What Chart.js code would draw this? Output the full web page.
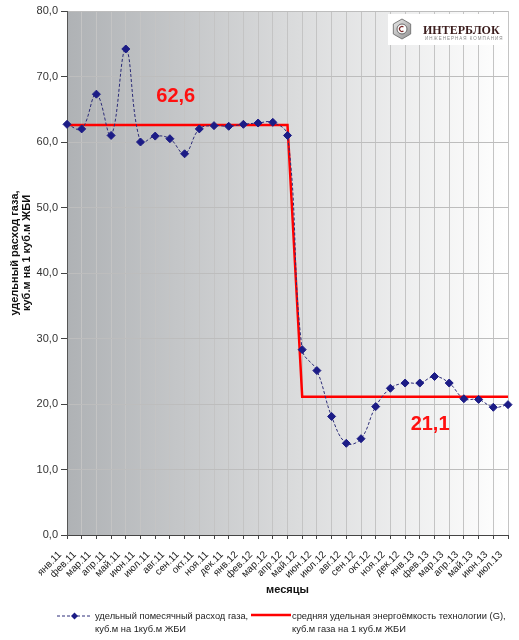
<!DOCTYPE html>
<html>
<head>
<meta charset="utf-8">
<script src="https://cdn.jsdelivr.net/npm/chart.js@4.4.0/dist/chart.umd.min.js"></script>
<style>
    html, body { margin: 0; padding: 0; background: #fff; }
    #wrap { width: 519px; height: 640px; }
</style>
</head>
<body>
<div id="wrap"><canvas id="gasChart" width="519" height="640"></canvas></div>
<script>
/* ============ ДАННЫЕ ============ */

const months = [
    "янв.11", "фев.11", "мар.11", "апр.11", "май.11", "июн.11", "июл.11", "авг.11",
    "сен.11", "окт.11", "ноя.11", "дек.11", "янв.12", "фев.12", "мар.12", "апр.12",
    "май.12", "июн.12", "июл.12", "авг.12", "сен.12", "окт.12", "ноя.12", "дек.12",
    "янв.13", "фев.13", "мар.13", "апр.13", "май.13", "июн.13", "июл.13"
];

// удельный помесячный расход газа
const gasMonthly = [
    62.7, 62.0, 67.3, 61.0, 74.2, 60.0, 60.9, 60.5, 58.2, 62.0, 62.5, 62.4, 62.7, 62.9, 63.0, 61.0,
    28.3, 25.1, 18.1, 14.0, 14.7, 19.6, 22.4, 23.2, 23.2, 24.2, 23.2, 20.8, 20.7, 19.5, 19.9
];

// средняя удельная энергоёмкость технологии (G)
const avgIntensity = [
    62.6, 62.6, 62.6, 62.6, 62.6, 62.6, 62.6, 62.6, 62.6, 62.6, 62.6, 62.6, 62.6, 62.6, 62.6, 62.6,
    21.1, 21.1, 21.1, 21.1, 21.1, 21.1, 21.1, 21.1, 21.1, 21.1, 21.1, 21.1, 21.1, 21.1, 21.1
];

const yTicks = [0, 10, 20, 30, 40, 50, 60, 70, 80];

const avgLabels = ["62,6", "21,1"];

const FONT = "Arial, 'Liberation Sans', sans-serif";

/* ============ ПЛАГИНЫ ============ */

const backgroundPlugin = {
    id: "plotBackground",
    beforeDraw(chart) {
        const { ctx, chartArea: a } = chart;
        const g = ctx.createLinearGradient(a.left, 0, a.right, 0);
        g.addColorStop(0, "#afb2b5");
        g.addColorStop(0.5, "#d9dadb");
        g.addColorStop(1, "#ffffff");
        ctx.save();
        ctx.fillStyle = g;
        ctx.fillRect(a.left, a.top, a.right - a.left, a.bottom - a.top);
        ctx.restore();
    }
};

const logoPlugin = {
    id: "logo",
    beforeDatasetsDraw(chart) {
        const { ctx, chartArea: a } = chart;
        ctx.save();
        ctx.fillStyle = "#ffffff";
        ctx.fillRect(388, a.top + 3, a.right - 388 - 1, 31);

        // шестигранник
        const cx = 402, cy = 29, r = 10;
        ctx.beginPath();
        for (let i = 0; i < 6; i++) {
            const ang = Math.PI / 6 + i * Math.PI / 3;
            const px = cx + r * Math.cos(ang), py = cy + r * Math.sin(ang);
            if (i === 0) ctx.moveTo(px, py); else ctx.lineTo(px, py);
        }
        ctx.closePath();
        const hg = ctx.createLinearGradient(cx - r, cy - r, cx + r, cy + r);
        hg.addColorStop(0, "#f0f0f0");
        hg.addColorStop(1, "#8c8c8c");
        ctx.fillStyle = hg;
        ctx.fill();
        ctx.strokeStyle = "#7a7a7a";
        ctx.lineWidth = 1;
        ctx.stroke();
        ctx.beginPath();
        ctx.arc(cx, cy, 5, 0, Math.PI * 2);
        ctx.fillStyle = "#ffffff";
        ctx.fill();
        ctx.strokeStyle = "#6a6a6a";
        ctx.stroke();
        ctx.beginPath();
        ctx.arc(cx, cy, 2.5, Math.PI * 0.3, Math.PI * 1.7);
        ctx.strokeStyle = "#7a2a2a";
        ctx.lineWidth = 1.2;
        ctx.stroke();

        ctx.fillStyle = "#3b1d1d";
        ctx.font = "bold 12px 'Liberation Serif', 'DejaVu Serif', serif";
        ctx.textBaseline = "alphabetic";
        ctx.fillText("ИНТЕРБЛОК", 423, 34);
        ctx.fillStyle = "#8a8a8a";
        ctx.font = "4.5px " + FONT;
        ctx.letterSpacing = "1px";
        ctx.fillText("ИНЖЕНЕРНАЯ КОМПАНИЯ", 425, 40);
        ctx.restore();
    }
};

const avgLabelPlugin = {
    id: "avgLabels",
    afterDatasetsDraw(chart) {
        const { ctx, scales: { x, y } } = chart;
        const spots = [[7.4, 66.9], [24.7, 16.8]];
        ctx.save();
        ctx.fillStyle = "#ff1010";
        ctx.font = "bold 20px " + FONT;
        ctx.textAlign = "center";
        ctx.textBaseline = "middle";
        avgLabels.forEach((t, i) => {
            ctx.fillText(t, x.getPixelForValue(spots[i][0]), y.getPixelForValue(spots[i][1]));
        });
        ctx.restore();
    }
};

const titlesLegendPlugin = {
    id: "titlesLegend",
    afterDraw(chart) {
        const { ctx } = chart;
        ctx.save();

        // подпись оси Y
        ctx.fillStyle = "#111";
        ctx.font = "bold 11px " + FONT;
        ctx.textAlign = "center";
        ctx.textBaseline = "middle";
        ctx.translate(21, 253);
        ctx.rotate(-Math.PI / 2);
        ctx.fillText("удельный расход газа,", 0, -6);
        ctx.fillText("куб.м на 1 куб.м ЖБИ", 0, 6);
        ctx.setTransform(1, 0, 0, 1, 0, 0);
        ctx.scale(chart.currentDevicePixelRatio, chart.currentDevicePixelRatio);

        // легенда
        ctx.textAlign = "left";
        ctx.font = "9.3px " + FONT;

        ctx.strokeStyle = "#2c2c78";
        ctx.lineWidth = 1;
        ctx.setLineDash([3, 2]);
        ctx.beginPath();
        ctx.moveTo(57, 616);
        ctx.lineTo(92, 616);
        ctx.stroke();
        ctx.setLineDash([]);
        ctx.fillStyle = "#1c1c86";
        ctx.beginPath();
        ctx.moveTo(74.5, 612.5);
        ctx.lineTo(78, 616);
        ctx.lineTo(74.5, 619.5);
        ctx.lineTo(71, 616);
        ctx.closePath();
        ctx.fill();

        ctx.fillStyle = "#222";
        ctx.fillText("удельный помесячный расход газа,", 95, 616);
        ctx.fillText("куб.м на 1куб.м ЖБИ", 95, 629);

        ctx.strokeStyle = "#ff0000";
        ctx.lineWidth = 2.5;
        ctx.beginPath();
        ctx.moveTo(251, 615);
        ctx.lineTo(291, 615);
        ctx.stroke();

        ctx.fillText("средняя удельная энергоёмкость технологии (G),", 292, 616);
        ctx.fillText("куб.м газа на 1 куб.м ЖБИ", 292, 629);

        ctx.restore();
    }
};

/* ============ ГРАФИК ============ */

function initGasChart() {
    const canvas = document.getElementById("gasChart");
    new Chart(canvas, {
        type: "line",
        data: {
            labels: months,
            datasets: [
                {
                    label: "удельный помесячный расход газа, куб.м на 1куб.м ЖБИ",
                    data: gasMonthly,
                    borderColor: "#2c2c78",
                    borderWidth: 1,
                    borderDash: [3, 2],
                    tension: 0.4,
                    pointStyle: "rectRot",
                    pointRadius: 4,
                    pointBackgroundColor: "#1c1c86",
                    pointBorderColor: "#1c1c86",
                    order: 1
                },
                {
                    label: "средняя удельная энергоёмкость технологии (G), куб.м газа на 1 куб.м ЖБИ",
                    data: avgIntensity,
                    borderColor: "#ff0000",
                    borderWidth: 2.5,
                    tension: 0,
                    pointRadius: 0,
                    order: 2
                }
            ]
        },
        options: {
            responsive: false,
            animation: false,
            layout: { padding: { left: 0, right: 11, top: 11, bottom: 40 } },
            plugins: {
                legend: { display: false },
                tooltip: { enabled: false }
            },
            scales: {
                x: {
                    offset: false,
                    grid: { color: "#c4c4c4", tickLength: 4, tickColor: "#444", drawOnChartArea: true },
                    border: { color: "#444", width: 1 },
                    ticks: {
                        autoSkip: false,
                        maxRotation: 45,
                        minRotation: 45,
                        padding: 10,
                        labelOffset: -7,
                        color: "#222",
                        font: { family: FONT, size: 10 }
                    },
                    title: {
                        display: true,
                        text: "месяцы",
                        color: "#111",
                        font: { family: FONT, size: 11, weight: "bold" },
                        padding: { top: 0, bottom: 3 }
                    },
                    afterFit(scale) {
                        scale.height = 65;
                        scale.paddingLeft = 0;
                        scale.paddingRight = 0;
                    }
                },
                y: {
                    min: 0,
                    max: 80,
                    afterBuildTicks(scale) { scale.ticks = yTicks.map(v => ({ value: v })); },
                    grid: { color: "#bdbdbd", tickLength: 6, tickColor: "#444" },
                    border: { color: "#555", width: 1 },
                    ticks: {
                        padding: 3,
                        color: "#333",
                        font: { family: FONT, size: 11 },
                        callback: v => v.toFixed(1).replace(".", ",")
                    },
                    afterFit(scale) {
                        scale.width = 67;
                        scale.paddingTop = 0;
                        scale.paddingBottom = 0;
                    }
                }
            }
        },
        plugins: [backgroundPlugin, logoPlugin, avgLabelPlugin, titlesLegendPlugin]
    });
}

document.addEventListener("DOMContentLoaded", initGasChart);
</script>
</body>
</html>
